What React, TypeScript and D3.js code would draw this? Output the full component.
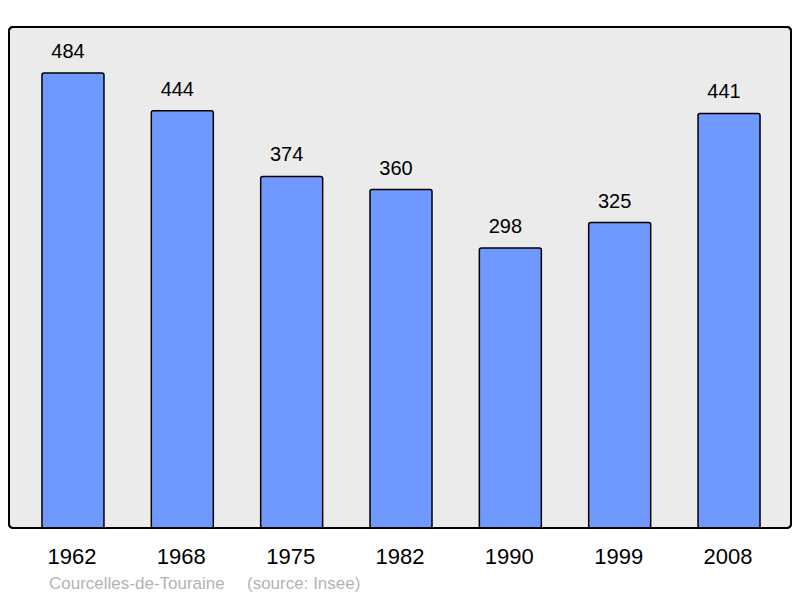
import React from "react";
import * as d3 from "d3";

const years = ["1962", "1968", "1975", "1982", "1990", "1999", "2008"];
const populations = [484, 444, 374, 360, 298, 325, 441];
const townLabel = "Courcelles-de-Touraine";
const sourceLabel = "(source: Insee)";

export default function App() {
  const W = 800, H = 598;
  const x = d3.scaleBand<string>().domain(years).range([18.3, 783.7]).paddingInner(0.433).paddingOuter(0.2165);
  const y = d3.scaleLinear().domain([0, 500]).range([528, 58]);
  const font = "'Liberation Sans', Arial, sans-serif";
  return (
    <svg width={W} height={H} style={{ position: "absolute", left: 0, top: 0 }} fontFamily={font}>
      <rect x={0} y={0} width={W} height={H} fill="#ffffff" />
      <rect x={9} y={27} width={782} height={501} rx={4} ry={4} fill="#ebebeb" stroke="#000" strokeWidth={2} />
      {years.map((yr, i) => {
        const bx = x(yr)!;
        const v = populations[i];
        const cx = bx + x.bandwidth() / 2;
        return (
          <g key={yr}>
            <rect x={bx} y={y(v)} width={x.bandwidth()} height={y(0) - y(v)} rx={2} ry={2} fill="#7099ff" stroke="#000" strokeWidth={1.5} />
            <text x={cx - 5} y={y(v) - 15} textAnchor="middle" fontSize={20} fill="#000">{v}</text>
            <text x={cx - 1} y={564} textAnchor="middle" fontSize={22} fill="#000">{yr}</text>
          </g>
        );
      })}
      <rect x={9} y={27} width={782} height={501} rx={4} ry={4} fill="none" stroke="#000" strokeWidth={2} />
      <text x={49} y={589} fontSize={17} fill="#b3b3b3">{townLabel}</text>
      <text x={247} y={589} fontSize={17} fill="#b3b3b3">{sourceLabel}</text>
    </svg>
  );
}
